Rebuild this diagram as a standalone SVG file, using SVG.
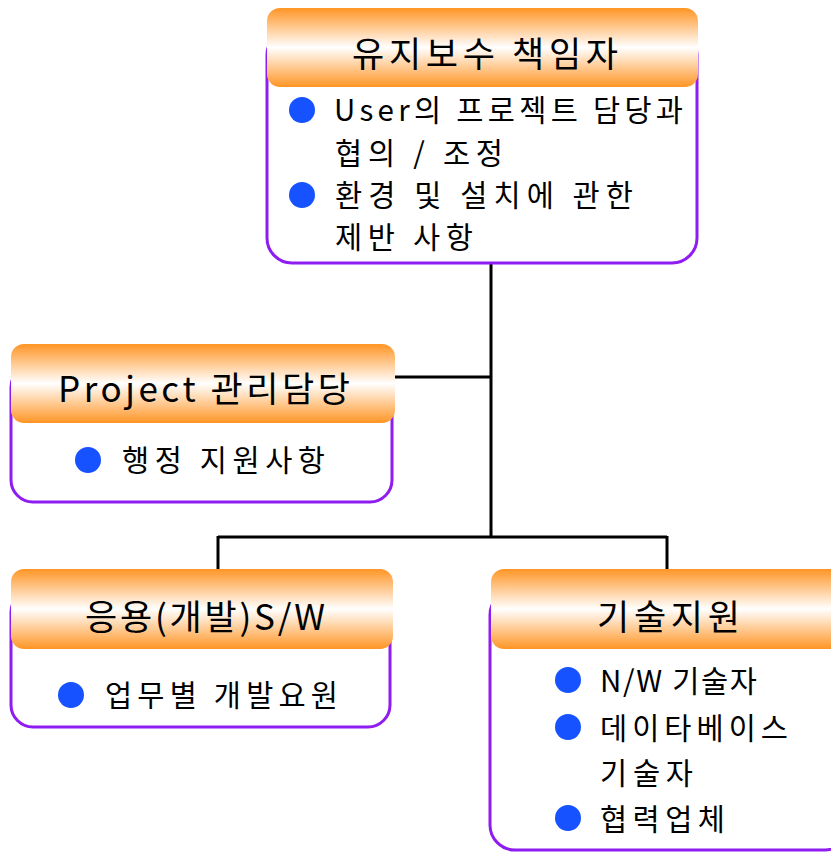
<svg xmlns="http://www.w3.org/2000/svg" width="831" height="852" viewBox="0 0 831 852">
<defs>
<linearGradient id="hdr" x1="0" y1="0" x2="0" y2="1">
<stop offset="0" stop-color="#FF9526"/>
<stop offset="0.5" stop-color="#FFFFFF"/>
<stop offset="1" stop-color="#FF9526"/>
</linearGradient>
</defs>
<style>
.box{fill:#FFFFFF;stroke:#8F1CF0;stroke-width:3}
.hdr{fill:url(#hdr);stroke:none}
.t{font-family:"Noto Sans CJK KR","Noto Sans",sans-serif;fill:#000000}
.ttl{font-size:35px}
.body{font-size:29.5px}
.dot{fill:#1652FF}
.ln{stroke:#000000;stroke-width:3;fill:none}
</style>
<rect width="831" height="852" fill="#FFFFFF"/>
<g id="connectors">
<line class="ln" x1="491" y1="263" x2="491" y2="537"/>
<line class="ln" x1="395" y1="377" x2="491" y2="377"/>
<line class="ln" x1="218" y1="537" x2="667" y2="537"/>
<line class="ln" x1="218" y1="536" x2="218" y2="570"/>
<line class="ln" x1="667" y1="536" x2="667" y2="570"/>
</g>
<g id="node-top">
<rect class="box" x="267" y="30" width="430" height="233" rx="25"/>
<rect class="hdr" x="267" y="8" width="431" height="79" rx="13"/>
<text class="t ttl" x="352" y="67" textLength="266" lengthAdjust="spacing">유지보수 책임자</text>
<circle class="dot" cx="302" cy="110" r="13"/>
<text class="t body" x="334" y="121" textLength="349" lengthAdjust="spacing">User의 프로젝트 담당과</text>
<text class="t body" x="335" y="164" textLength="168" lengthAdjust="spacing">협의 / 조정</text>
<circle class="dot" cx="302" cy="195" r="13"/>
<text class="t body" x="335" y="206" textLength="298" lengthAdjust="spacing">환경 및 설치에 관한</text>
<text class="t body" x="335" y="248" textLength="138" lengthAdjust="spacing">제반 사항</text>
</g>
<g id="node-project">
<rect class="box" x="11" y="365" width="381" height="137" rx="22"/>
<rect class="hdr" x="11" y="344" width="384" height="79" rx="13"/>
<text class="t ttl" x="58" y="402" textLength="292" lengthAdjust="spacing">Project 관리담당</text>
<circle class="dot" cx="88" cy="460" r="13"/>
<text class="t body" x="122" y="471" textLength="203" lengthAdjust="spacing">행정 지원사항</text>
</g>
<g id="node-app">
<rect class="box" x="11" y="590" width="379" height="137" rx="22"/>
<rect class="hdr" x="11" y="569" width="382" height="80" rx="13"/>
<text class="t ttl" x="85" y="630" textLength="240" lengthAdjust="spacing">응용(개발)S/W</text>
<circle class="dot" cx="71" cy="695" r="13"/>
<text class="t body" x="105" y="706" textLength="233" lengthAdjust="spacing">업무별 개발요원</text>
</g>
<g id="node-tech">
<rect class="box" x="490" y="590" width="360" height="260" rx="25"/>
<rect class="hdr" x="491" y="569" width="360" height="80" rx="13"/>
<text class="t ttl" x="597" y="630" textLength="143" lengthAdjust="spacing">기술지원</text>
<circle class="dot" cx="568" cy="680" r="13"/>
<text class="t body" x="600" y="692" textLength="157" lengthAdjust="spacing">N/W 기술자</text>
<circle class="dot" cx="568" cy="727" r="13"/>
<text class="t body" x="600" y="739" textLength="188" lengthAdjust="spacing">데이타베이스</text>
<text class="t body" x="600" y="784" textLength="93" lengthAdjust="spacing">기술자</text>
<circle class="dot" cx="568" cy="818" r="13"/>
<text class="t body" x="600" y="830" textLength="125" lengthAdjust="spacing">협력업체</text>
</g>
</svg>
